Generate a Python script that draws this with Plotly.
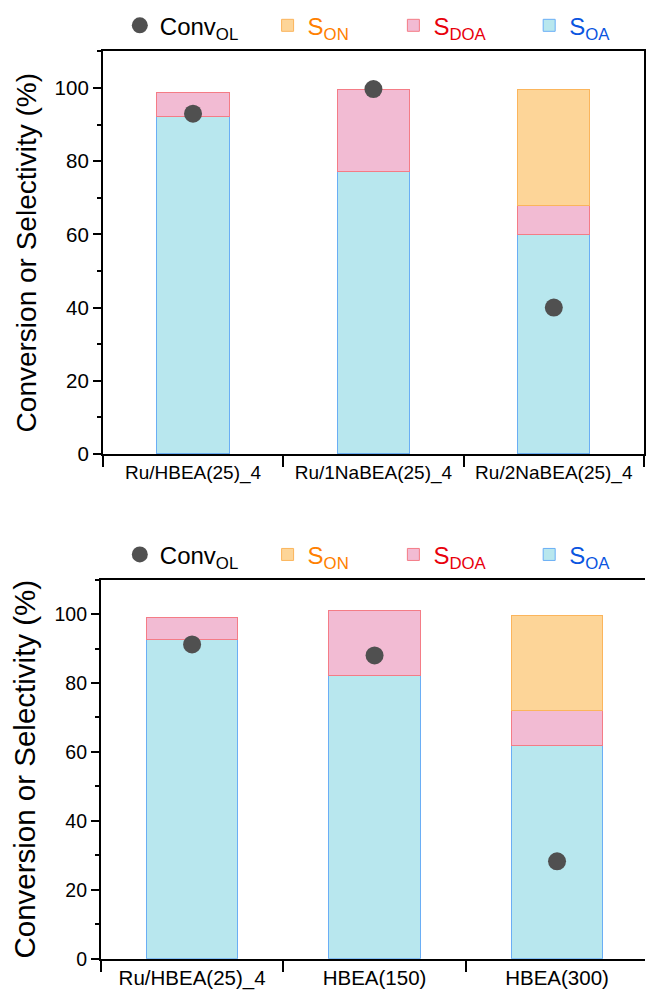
import plotly.graph_objects as go

# ---- data ----
categories_top = ["Ru/HBEA(25)_4", "Ru/1NaBEA(25)_4", "Ru/2NaBEA(25)_4"]
s_oa_top = [92.2, 77.1, 60.1]
s_doa_top = [6.6, 22.4, 7.8]
s_on_top = [None, None, 31.8]
conv_top = [93.0, 99.7, 40.0]

categories_bot = ["Ru/HBEA(25)_4", "HBEA(150)", "HBEA(300)"]
s_oa_bot = [92.5, 82.2, 62.0]
s_doa_bot = [6.5, 18.7, 10.1]
s_on_bot = [None, None, 27.5]
conv_bot = [91.2, 88.0, 28.3]

y_title = "Conversion or Selectivity (%)"

# ---- styles ----
FONT = "Liberation Sans, Arial, Helvetica, sans-serif"
OA_FILL, OA_LINE = "#B8E7EE", "#6AAEF5"
DOA_FILL, DOA_LINE = "#F2BBD3", "#F47C86"
ON_FILL, ON_LINE = "#FDD598", "#FBB55C"
CONV_C = "#505050"

name_conv = "Conv<sub>OL</sub>"
name_on = "<span style='color:#FF8000'>S<sub>ON</sub></span>"
name_doa = "<span style='color:#E8000B'>S<sub>DOA</sub></span>"
name_oa = "<span style='color:#0A55E0'>S<sub>OA</sub></span>"

W, H = 646, 1002

fig = go.Figure()


def add_panel(cats, oa, doa, on, conv, xa, ya, legs, bw):
    fig.add_trace(go.Bar(x=cats, y=oa, name=name_oa, width=bw,
                         marker=dict(color=OA_FILL, line=dict(color=OA_LINE, width=1)),
                         xaxis=xa, yaxis=ya, legend=legs[3], showlegend=True))
    fig.add_trace(go.Bar(x=cats, y=doa, name=name_doa, width=bw,
                         marker=dict(color=DOA_FILL, line=dict(color=DOA_LINE, width=1)),
                         xaxis=xa, yaxis=ya, legend=legs[2], showlegend=True))
    fig.add_trace(go.Bar(x=cats, y=on, name=name_on, width=bw,
                         marker=dict(color=ON_FILL, line=dict(color=ON_LINE, width=1)),
                         xaxis=xa, yaxis=ya, legend=legs[1], showlegend=True))
    fig.add_trace(go.Scatter(x=cats, y=conv, name=name_conv, mode="markers",
                             marker=dict(color=CONV_C, size=18, symbol="circle"),
                             xaxis=xa, yaxis=ya, legend=legs[0], showlegend=True))


add_panel(categories_top, s_oa_top, s_doa_top, s_on_top, conv_top, "x", "y",
          ["legend", "legend2", "legend3", "legend4"], 0.4)
add_panel(categories_bot, s_oa_bot, s_doa_bot, s_on_bot, conv_bot, "x2", "y2",
          ["legend5", "legend6", "legend7", "legend8"], 0.5)


def xax(fs):
    return dict(type="category", tickson="boundaries", ticks="outside", ticklen=11,
                tickwidth=1.5, tickcolor="black", showline=True, linecolor="black",
                linewidth=1.8, showgrid=False, zeroline=False,
                tickfont=dict(family=FONT, size=fs, color="black"))


def yax(fs, tfs):
    return dict(range=[0, 110], dtick=20, tick0=0, ticks="outside", ticklen=8,
                tickwidth=1.5, tickcolor="black", showline=True, linecolor="black",
                linewidth=1.8, showgrid=False, zeroline=False,
                minor=dict(dtick=10, ticks="outside", ticklen=4, tickwidth=1.5,
                           tickcolor="black", showgrid=False),
                tickfont=dict(family=FONT, size=fs, color="black"),
                title=dict(text=y_title, font=dict(family=FONT, size=tfs, color="black"),
                           standoff=10))


def leg(xpix, ypix):
    return dict(x=(xpix - 20) / W, xanchor="left", y=1 - ypix / H, yanchor="middle",
                font=dict(family=FONT, size=24, color="black"),
                bgcolor="rgba(0,0,0,0)", borderwidth=0)


fig.update_layout(
    width=W, height=H,
    margin=dict(l=0, r=0, t=0, b=0),
    paper_bgcolor="white", plot_bgcolor="white",
    barmode="stack",
    showlegend=True,
    font=dict(family=FONT, color="black"),
    xaxis=dict(domain=[103 / W, 645 / W], range=[-0.5, 2.5], anchor="y",
               mirror=True, **xax(19)),
    yaxis=dict(domain=[1 - 459 / H, 1 - 52 / H], anchor="x", mirror=True, **yax(20.5, 28)),
    xaxis2=dict(domain=[101 / W, 1.0], range=[-0.5, 2.482], anchor="y2",
                mirror=True, **xax(20.5)),
    yaxis2=dict(domain=[1 - 969.5 / H, 1 - 586 / H], anchor="x2", mirror=False,
                **yax(19.5, 29.5)),
    legend=leg(140, 26), legend2=leg(288, 26), legend3=leg(414, 26), legend4=leg(550, 26),
    legend5=leg(140, 561), legend6=leg(288, 561), legend7=leg(414, 561), legend8=leg(550, 561),
)

fig.write_html("out.html")
